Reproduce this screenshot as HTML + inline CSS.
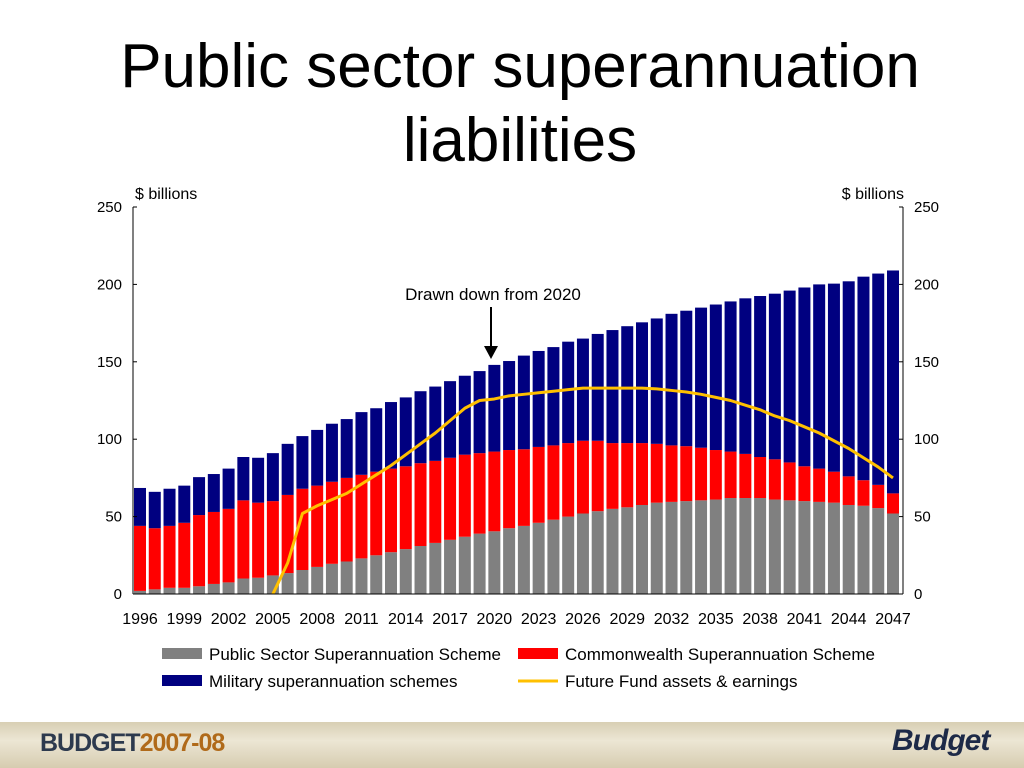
<!DOCTYPE html>
<html><head><meta charset="utf-8"><style>
body{margin:0;width:1024px;height:768px;overflow:hidden;background:#fff;font-family:"Liberation Sans",sans-serif;position:relative}
#title{position:absolute;left:0;top:30px;width:1040px;text-align:center;font-size:62px;line-height:74px;color:#000}
#footer{position:absolute;left:0;top:722px;width:1024px;height:46px;background:linear-gradient(#d8cfb4,#ece6d4 40%,#d6ccb0)}
</style></head><body>
<div id="title">Public sector superannuation<br>liabilities</div>
<svg id="chart" width="1024" height="768" style="position:absolute;left:0;top:0"></svg>
<div id="footer">
<div style="position:absolute;left:40px;top:7px;font-size:25px;font-weight:bold;color:#2d3a4e;letter-spacing:-1px">BUDGET<span style="color:#b06a1a">2007-08</span></div>
<div style="position:absolute;left:892px;top:2px;font-size:30px;font-weight:bold;font-style:italic;color:#1d2a48;letter-spacing:-1px">Budget</div>
</div>
<script>
const years=[];for(let y=1996;y<=2047;y++)years.push(y);
const pss=[2,3,4,4,5,6.5,7.5,10,10.5,12,13.5,15.5,17.5,19.5,21,23,25,27,29,31,33,35,37,39,40.5,42.5,44,46,48,50,52,53.5,55,56,57.5,59,59.5,60,60.5,61,62,62,62,61,60.5,60,59.5,59,57.5,57,55.5,52];
const cssTop=[44,42.5,44,46,51,53,55,60.5,59,60,64,68,70,72.5,75,77,79,81,82.5,84.5,86,88,90,91,92,93,93.5,95,96,97.5,99,99,97.5,97.5,97.5,97,96,95.5,94.5,93,92,90.5,88.5,87,85,82.5,81,79,76,73.5,70.5,65];
const totals=[68.5,66,68,70,75.5,77.5,81,88.5,88,91,97,102,106,110,113,117.5,120,124,127,131,134,137.5,141,144,148,150.5,154,157,159.5,163,165,168,170.5,173,175.5,178,181,183,185,187,189,191,192.5,194,196,198,200,200.5,202,205,207,209];
const fundYears=[2005,2006,2007,2008,2009,2010,2011,2012,2013,2014,2015,2016,2017,2018,2019,2020,2021,2022,2023,2024,2025,2026,2027,2028,2029,2030,2031,2032,2033,2034,2035,2036,2037,2038,2039,2040,2041,2042,2043,2044,2045,2046,2047];
const fund=[0,20,52,57,61,65,71,77,83,90,97,104,112,120,125,126,128,129,130,131,132,133,133,133,133,133,132.5,131.5,130.5,129,127,125,122,119,115,112,108,104,99,94,88,82,75];
const yTicks=[0,50,100,150,200,250];
const xLabels=[1996,1999,2002,2005,2008,2011,2014,2017,2020,2023,2026,2029,2032,2035,2038,2041,2044,2047];
const NS='http://www.w3.org/2000/svg';const svg=document.getElementById('chart');
const L=133,R=903,Y0=594,Y1=207;
const y=v=>Y0-(v/250)*(Y0-Y1);
const step=(893-140)/51;const x=yr=>140+(yr-1996)*step;
function el(t,a,txt){const e=document.createElementNS(NS,t);for(const k in a)e.setAttribute(k,a[k]);if(txt!=null)e.textContent=txt;svg.appendChild(e);return e;}
const bw=12;
years.forEach((yr,i)=>{
 let e=el('rect',{x:x(yr)-bw/2,y:y(pss[i]),width:bw,height:y(0)-y(pss[i]),fill:'#808080'});
 
 e=el('rect',{x:x(yr)-bw/2,y:y(cssTop[i]),width:bw,height:y(pss[i])-y(cssTop[i]),fill:'#ff0000'});
 
 e=el('rect',{x:x(yr)-bw/2,y:y(totals[i]),width:bw,height:y(cssTop[i])-y(totals[i]),fill:'#000080'});
 
});
let pts=fundYears.map((yr,i)=>x(yr)+','+y(fund[i])).join(' ');
let ln=el('polyline',{points:pts,fill:'none',stroke:'#ffc000',"stroke-width":3,"stroke-linejoin":'round'});

let a=el('line',{x1:L,y1:Y1,x2:L,y2:Y0,stroke:'#000'});
a=el('line',{x1:R,y1:Y1,x2:R,y2:Y0,stroke:'#000'});
a=el('line',{x1:L,y1:Y0,x2:R,y2:Y0,stroke:'#000'});
yTicks.forEach(v=>{
 let t=el('text',{x:122,y:y(v)+5,"text-anchor":'end',"font-size":15},v);
 t=el('text',{x:914,y:y(v)+5,"font-size":15},v);
 el('line',{x1:L,y1:y(v),x2:L+4,y2:y(v),stroke:'#000'});el('line',{x1:R-4,y1:y(v),x2:R,y2:y(v),stroke:'#000'});
});
xLabels.forEach(v=>{let t=el('text',{x:x(v),y:624,"text-anchor":'middle',"font-size":16},v);});
let t=el('text',{x:135,y:199,"font-size":16},'$ billions');
t=el('text',{x:904,y:199,"font-size":16,"text-anchor":'end'},'$ billions');
t=el('text',{x:493,y:300,"font-size":17,"text-anchor":'middle'},'Drawn down from 2020');
t=el('line',{x1:491,y1:307,x2:491,y2:348,stroke:'#000',"stroke-width":2});
el('polygon',{points:'484,346 498,346 491,359',fill:'#000'});
const leg=[['Public Sector Superannuation Scheme','#808080',162,654,'rect'],['Commonwealth Superannuation Scheme','#ff0000',518,654,'rect'],['Military superannuation schemes','#000080',162,681,'rect'],['Future Fund assets & earnings','#ffc000',518,681,'line']];
leg.forEach(([n,c,lx,ly,k])=>{
 let s=k==='rect'?el('rect',{x:lx,y:ly-6,width:40,height:11,fill:c}):el('line',{x1:lx,y1:ly,x2:lx+40,y2:ly,stroke:c,"stroke-width":3});
 
 let tt=el('text',{x:lx+47,y:ly+6,"font-size":17},n);
});
</script>
</body></html>
